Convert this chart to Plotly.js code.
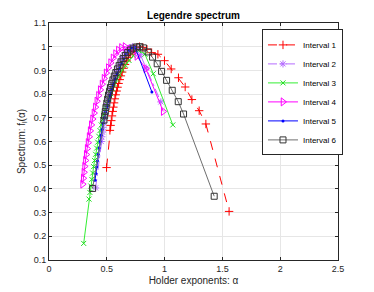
<!DOCTYPE html>
<html>
<head>
<meta charset="utf-8">
<script src="https://cdn.plot.ly/plotly-3.0.1.min.js"></script>
<style>
html,body{margin:0;padding:0;background:#fff;}
#chart{width:374px;height:292px;}
</style>
</head>
<body>
<div id="chart"></div>
<script>
// Interval 1
var alpha1 = [0.498, 0.527, 0.533, 0.539, 0.545, 0.551, 0.557, 0.563, 0.570, 0.577, 0.585, 0.593, 0.602, 0.612, 0.622, 0.633, 0.645, 0.658, 0.672, 0.687, 0.703, 0.720, 0.739, 0.760, 0.783, 0.812, 0.848, 0.888, 0.942, 0.999, 1.057, 1.120, 1.178, 1.236, 1.299, 1.357, 1.558];
var f1     = [0.490, 0.647, 0.668, 0.688, 0.708, 0.727, 0.745, 0.763, 0.780, 0.797, 0.813, 0.829, 0.845, 0.861, 0.877, 0.893, 0.909, 0.925, 0.940, 0.955, 0.968, 0.980, 0.990, 0.997, 1.000, 0.997, 0.989, 0.975, 0.968, 0.941, 0.906, 0.869, 0.830, 0.777, 0.730, 0.674, 0.305];
// Interval 2
var alpha2 = [0.403, 0.452, 0.457, 0.462, 0.467, 0.473, 0.479, 0.486, 0.493, 0.501, 0.510, 0.520, 0.531, 0.543, 0.556, 0.570, 0.585, 0.601, 0.618, 0.636, 0.655, 0.675, 0.697, 0.722, 0.752, 0.790, 0.840, 0.968];
var f2     = [0.404, 0.600, 0.620, 0.640, 0.660, 0.680, 0.700, 0.720, 0.740, 0.760, 0.780, 0.800, 0.820, 0.840, 0.860, 0.880, 0.900, 0.920, 0.940, 0.958, 0.974, 0.987, 0.996, 1.000, 0.993, 0.966, 0.910, 0.767];
// Interval 3
var alpha3 = [0.300, 0.346, 0.354, 0.362, 0.370, 0.378, 0.386, 0.394, 0.403, 0.412, 0.421, 0.431, 0.441, 0.452, 0.463, 0.475, 0.488, 0.502, 0.517, 0.533, 0.550, 0.568, 0.588, 0.610, 0.634, 0.661, 0.692, 0.730, 0.775, 0.830, 0.902, 1.071];
var f3     = [0.170, 0.357, 0.385, 0.412, 0.440, 0.467, 0.494, 0.520, 0.546, 0.572, 0.597, 0.622, 0.646, 0.670, 0.693, 0.716, 0.738, 0.760, 0.781, 0.802, 0.822, 0.842, 0.862, 0.882, 0.902, 0.922, 0.942, 0.962, 0.984, 0.968, 0.886, 0.670];
// Interval 4
var alpha4 = [0.291, 0.296, 0.302, 0.308, 0.315, 0.322, 0.330, 0.338, 0.347, 0.356, 0.366, 0.377, 0.389, 0.401, 0.414, 0.428, 0.443, 0.459, 0.476, 0.494, 0.513, 0.533, 0.554, 0.576, 0.600, 0.627, 0.658, 0.700, 0.760, 0.838, 0.988];
var f4     = [0.420, 0.445, 0.470, 0.495, 0.520, 0.545, 0.570, 0.595, 0.620, 0.645, 0.670, 0.695, 0.720, 0.745, 0.770, 0.794, 0.818, 0.842, 0.866, 0.889, 0.911, 0.932, 0.952, 0.970, 0.985, 0.996, 1.000, 0.990, 0.960, 0.907, 0.727];
// Interval 5
var alpha5 = [0.398, 0.405, 0.412, 0.419, 0.426, 0.434, 0.442, 0.451, 0.460, 0.469, 0.479, 0.490, 0.501, 0.513, 0.526, 0.540, 0.555, 0.571, 0.588, 0.606, 0.625, 0.645, 0.667, 0.690, 0.715, 0.745, 0.890];
var f5     = [0.437, 0.465, 0.492, 0.519, 0.546, 0.573, 0.600, 0.626, 0.651, 0.676, 0.700, 0.724, 0.748, 0.772, 0.795, 0.818, 0.841, 0.864, 0.886, 0.908, 0.929, 0.949, 0.967, 0.983, 0.995, 0.997, 0.809];
// Interval 6
var alpha6 = [0.377, 0.475, 0.481, 0.487, 0.493, 0.500, 0.507, 0.515, 0.523, 0.532, 0.542, 0.553, 0.565, 0.578, 0.592, 0.607, 0.623, 0.641, 0.660, 0.681, 0.704, 0.729, 0.756, 0.785, 0.817, 0.858, 0.896, 0.936, 0.974, 1.017, 1.066, 1.118, 1.164, 1.429];
var f6     = [0.402, 0.690, 0.708, 0.726, 0.744, 0.762, 0.779, 0.796, 0.812, 0.828, 0.844, 0.860, 0.876, 0.891, 0.906, 0.921, 0.936, 0.950, 0.963, 0.975, 0.986, 0.994, 0.999, 1.000, 0.995, 0.978, 0.956, 0.928, 0.896, 0.858, 0.816, 0.768, 0.716, 0.369];

var names = ['Interval 1','Interval 2','Interval 3','Interval 4','Interval 5','Interval 6'];
var xTicks = [0, 0.5, 1, 1.5, 2, 2.5];
var xTickText = ['0','0.5','1','1.5','2','2.5'];
var yTicks = [0.1,0.2,0.3,0.4,0.5,0.6,0.7,0.8,0.9,1.0,1.1];
var yTickText = ['0.1','0.2','0.3','0.4','0.5','0.6','0.7','0.8','0.9','1','1.1'];

var FONT = 'Liberation Sans, Arial, Helvetica, sans-serif';

var traces = [
  {x: alpha1, y: f1, name: names[0], mode: 'lines+markers',
   line: {color: '#ff0000', width: 1, dash: 'dash'},
   marker: {symbol: 'cross-thin-open', size: 6, color: '#ff0000', line: {color: '#ff0000', width: 1}}},
  {x: alpha2, y: f2, name: names[1], mode: 'lines+markers',
   line: {color: '#b56cff', width: 1, dash: 'dashdot'},
   marker: {symbol: 'asterisk-open', size: 6, color: '#b56cff', line: {color: '#b56cff', width: 1}}},
  {x: alpha3, y: f3, name: names[2], mode: 'lines+markers',
   line: {color: '#33ee33', width: 1},
   marker: {symbol: 'x-thin-open', size: 5, color: '#22dd22', line: {color: '#22dd22', width: 1}}},
  {x: alpha4, y: f4, name: names[3], mode: 'lines+markers',
   line: {color: '#ff00ff', width: 1},
   marker: {symbol: 'triangle-right-open', size: 7, color: '#ff00ff', line: {color: '#ff00ff', width: 1}}},
  {x: alpha5, y: f5, name: names[4], mode: 'lines+markers',
   line: {color: '#0000ff', width: 1},
   marker: {symbol: 'circle', size: 3, color: '#0000ff'}},
  {x: alpha6, y: f6, name: names[5], mode: 'lines+markers',
   line: {color: '#6e6e6e', width: 1},
   marker: {symbol: 'square-open', size: 6, color: '#333333', line: {color: '#333333', width: 1}}}
];

var axisCommon = {
  showline: true, linecolor: '#262626', linewidth: 1, mirror: 'ticks',
  ticks: 'inside', ticklen: 3, tickcolor: '#262626', tickwidth: 1,
  showgrid: true, gridcolor: '#e6e6e6', gridwidth: 1, zeroline: false,
  tickfont: {family: FONT, size: 9, color: '#262626'}
};

var layout = {
  width: 374, height: 292,
  margin: {l: 49, r: 36, t: 23, b: 32},
  paper_bgcolor: '#ffffff', plot_bgcolor: '#ffffff',
  font: {family: FONT, color: '#262626'},
  title: {text: '<b>Legendre spectrum</b>', font: {family: FONT, size: 10, color: '#000'},
          x: 0.5, xref: 'paper', xanchor: 'center', y: 0.948, yanchor: 'middle'},
  xaxis: Object.assign({}, axisCommon, {
    range: [0, 2.5], tickvals: xTicks, ticktext: xTickText,
    title: {text: 'Holder exponents: α', font: {family: FONT, size: 10, color: '#262626'}, standoff: 4}
  }),
  yaxis: Object.assign({}, axisCommon, {
    range: [0.1, 1.1], tickvals: yTicks, ticktext: yTickText,
    title: {text: 'Spectrum: f<sub>l</sub>(α)', font: {family: FONT, size: 10, color: '#262626'}, standoff: 6}
  }),
  showlegend: true,
  legend: {x: 0.737, y: 0.973, xanchor: 'left', yanchor: 'top',
           bgcolor: '#ffffff', bordercolor: '#262626', borderwidth: 1,
           font: {family: FONT, size: 8, color: '#000'}, tracegroupgap: 0, itemwidth: 30}
};

Plotly.newPlot('chart', traces, layout, {staticPlot: true, displayModeBar: false});
</script>
</body>
</html>
